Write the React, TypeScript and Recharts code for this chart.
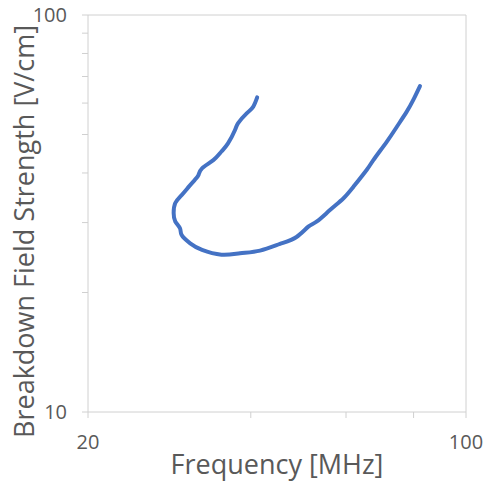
import { LineChart, Line, XAxis, YAxis, ReferenceLine } from 'recharts';

// values (log-log axes)
const frequency = [
    41.1, 40.4, 39.3, 37.9, 37.4, 36.3, 35.3, 34.1, 32.5, 32.0, 31.5, 30.7, 29.8, 29.0,
    28.8, 29.0, 29.6, 29.8, 30.9, 32.5, 35.3, 38.2, 41.6, 45.3, 48.6, 51.1, 53.0, 56.1,
    59.3, 61.9, 65.5, 67.4, 71.4, 74.5, 77.7, 79.9, 82.2,
];
const fieldStrength = [
    62.0, 58.7, 56.5, 53.4, 51.3, 47.5, 45.3, 43.1, 41.1, 39.5, 38.4, 36.9, 35.2, 33.6,
    31.7, 30.2, 29.0, 27.9, 26.6, 25.6, 24.9, 25.1, 25.5, 26.5, 27.6, 29.3, 30.2, 32.3,
    34.5, 36.9, 40.7, 43.1, 48.0, 52.3, 57.1, 61.1, 66.2,
];
const xTicks = [20, 40, 60, 80, 100];
const xLabels = [20, 100];
const yTicks = [10, 20, 30, 40, 50, 60, 70, 80, 90, 100];
const yLabels = [10, 100];

const data = frequency.map((f, i) => ({ f, e: fieldStrength[i] }));

const AXIS = '#d0d0d0';
const TEXT = '#595959';
const FONT = '"Open Sans", sans-serif';
const TITLE_SIZE = 27;

const YTitle = ({ viewBox }: any) => {
    const cx = 34;
    const cy = viewBox.y + viewBox.height / 2 + 18;
    return (
        <text
            x={cx}
            y={cy}
            transform={`rotate(-90 ${cx} ${cy})`}
            textAnchor="middle"
            fill={TEXT}
            fontSize={TITLE_SIZE}
            fontFamily={FONT}
        >
            Breakdown Field Strength [V/cm]
        </text>
    );
};

const App = () => {
    return (
        <div style={{ position: 'absolute', left: 0, top: 0, background: '#fff' }}>
            <LineChart
                width={483}
                height={481}
                data={data}
                margin={{ top: 15, right: 17, left: 0, bottom: 0 }}
                style={{ fontFamily: FONT }}
            >
                <XAxis
                    dataKey="f"
                    type="number"
                    scale="log"
                    domain={[20, 100]}
                    ticks={xTicks}
                    allowDataOverflow
                    height={69}
                    stroke={AXIS}
                    tickSize={6}
                    tickMargin={17}
                    tick={{ fill: TEXT, fontSize: 20 }}
                    tickFormatter={(v: number) => (xLabels.includes(v) ? String(v) : '')}
                    label={{
                        value: 'Frequency [MHz]',
                        position: 'insideBottom',
                        offset: 7,
                        fill: TEXT,
                        fontSize: TITLE_SIZE,
                    }}
                />
                <YAxis
                    dataKey="e"
                    type="number"
                    scale="log"
                    domain={[10, 100]}
                    ticks={yTicks}
                    allowDataOverflow
                    width={88}
                    stroke={AXIS}
                    tickSize={6}
                    tickMargin={15}
                    tick={{ fill: TEXT, fontSize: 20 }}
                    tickFormatter={(v: number) => (yLabels.includes(v) ? String(v) : '')}
                    label={<YTitle />}
                />
                <ReferenceLine y={100} stroke={AXIS} />
                <ReferenceLine x={100} stroke={AXIS} />
                <Line
                    dataKey="e"
                    type="natural"
                    stroke="#4472C4"
                    strokeWidth={4}
                    strokeLinecap="round"
                    strokeLinejoin="round"
                    dot={false}
                    activeDot={false}
                    isAnimationActive={false}
                />
            </LineChart>
        </div>
    );
};

export default App;
